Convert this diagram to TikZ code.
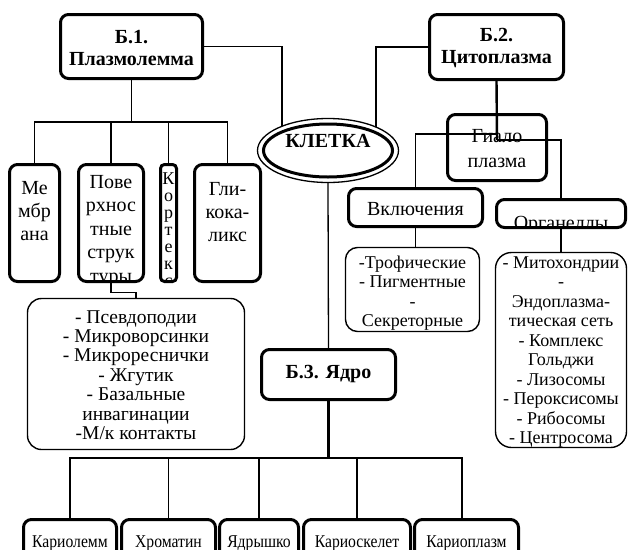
\documentclass[tikz,border=0pt]{standalone}
\usepackage{fontspec}
\setmainfont{Liberation Serif}
\usetikzlibrary{shapes.geometric}
\pgfdeclarelayer{bg}
\pgfsetlayers{bg,main}
\begin{document}
\begin{tikzpicture}[x=1pt,y=-1pt,
  tbox/.style={draw, line width=3pt, rounded corners=8pt, fill=white, inner sep=0pt, outer sep=0pt},
  lbox/.style={draw, line width=1.4pt, rounded corners=14pt, fill=white, inner sep=0pt, outer sep=0pt},
  conn/.style={line width=1.3pt},
  tconn/.style={line width=2.4pt},
  bt/.style={font=\bfseries\fontsize{20}{22}\selectfont, align=center, inner sep=0pt},
  nt/.style={font=\fontsize{20}{23}\selectfont, align=center, inner sep=0pt},
  lt/.style={font=\fontsize{18}{19.5}\selectfont, align=center, inner sep=0pt},
]
\clip (0,0) rectangle (629,549);

% main boxes
\node[tbox, minimum width=142pt, minimum height=64pt] (b1) at (131.5,46.5) {};
\node[tbox, minimum width=134pt, minimum height=65pt] (b2) at (496.5,47) {};
\node[tbox, minimum width=99pt, minimum height=66pt] (hyal) at (497,147.5) {};
\node[ellipse, draw, line width=1.3pt, fill=white, minimum width=141pt, minimum height=64pt, inner sep=0pt] (kl) at (328,150.5) {};
\draw[line width=3pt] (kl.center) ellipse [x radius=64.5, y radius=26.5];

\node[tbox, minimum width=50pt, minimum height=117pt] (mem) at (34.5,223) {};
\node[tbox, minimum width=65pt, minimum height=117pt] (pov) at (111,223) {};
\node[tbox, rounded corners=4pt, minimum width=16pt, minimum height=117pt] (kor) at (168.5,223) {};
\node[tbox, minimum width=66pt, minimum height=117pt] (gli) at (227.5,223) {};
\node[lbox, minimum width=217pt, minimum height=151pt] (povl) at (136,374) {};

\node[tbox, minimum width=134pt, minimum height=38pt] (vkl) at (415.5,207.5) {};
\node[tbox, minimum width=129pt, minimum height=28pt] (org) at (561,213.5) {};
\node[lbox, rounded corners=12pt, minimum width=134pt, minimum height=84pt] (trof) at (412.5,289.5) {};
\node[lbox, rounded corners=16pt, minimum width=131pt, minimum height=195pt] (mito) at (561,350) {};

\node[tbox, minimum width=134pt, minimum height=50pt] (yad) at (328.5,374.5) {};

\node[tbox, minimum width=93pt, minimum height=54pt] (k1) at (70,546.5) {};
\node[tbox, minimum width=94pt, minimum height=54pt] (k2) at (168.5,546.5) {};
\node[tbox, minimum width=79pt, minimum height=54pt] (k3) at (259,546.5) {};
\node[tbox, minimum width=107pt, minimum height=54pt] (k4) at (357,546.5) {};
\node[tbox, minimum width=104pt, minimum height=54pt] (k5) at (466.5,546.5) {};

% texts
\node[bt] (t1) at (131.5,48) {Б.1.\\Плазмолемма};
\node[bt] (t2) at (496.5,48) {Б.2.\\Цитоплазма};
\node[bt] (tkl) at (328,141) {КЛЕТКА};
\node[bt] (tyad) at (328.5,374) {Б.3. Ядро};
\node[nt, font=\fontsize{20}{25}\selectfont] (thyal) at (497,149) {Гиало\\плазма};
\node[nt] (tvkl) at (415.5,209) {Включения};

\begin{scope}
\clip[rounded corners=6pt] (mem.south west) rectangle (mem.north east);
\node[nt] (tmem) at (34.5,211) {Ме\\мбр\\ана};
\end{scope}
\begin{scope}
\clip[rounded corners=6pt] (pov.south west) rectangle (pov.north east);
\node[nt, font=\fontsize{20}{23.5}\selectfont] (tpov) at (111,231) {Пове\\рхнос\\тные\\струк\\туры};
\end{scope}
\begin{scope}
\clip[rounded corners=3pt] (kor.south west) rectangle (kor.north east);
\node[nt, font=\fontsize{18}{17}\selectfont] (tkor) at (168.5,230) {К\\о\\р\\т\\е\\к\\с};
\end{scope}
\begin{scope}
\clip[rounded corners=6pt] (gli.south west) rectangle (gli.north east);
\node[nt] (tgli) at (227.5,212) {Гли-\\кока-\\ликс};
\end{scope}
\node[lt, font=\fontsize{19.5}{19.4}\selectfont] (tpovl) at (136,375) {- Псевдоподии\\- Микроворсинки\\- Микрореснички\\- Жгутик\\- Базальные\\инвагинации\\-М/к контакты};
\begin{scope}
\clip[rounded corners=6pt] (org.south west) rectangle (org.north east);
\node[nt, anchor=base] (torg) at (561,229) {Органеллы};
\end{scope}
\begin{scope}
\clip[rounded corners=11pt] (trof.south west) rectangle (trof.north east);
\node[lt] (ttrof) at (412.5,293) {-Трофические\\- Пигментные\\-\\Секреторные};
\end{scope}
\begin{scope}
\clip[rounded corners=15pt] (mito.south west) rectangle (mito.north east);
\node[lt] (tmito) at (561,352) {- Митохондрии\\-\\Эндоплазма-\\тическая сеть\\- Комплекс\\Гольджи\\- Лизосомы\\- Пероксисомы\\- Рибосомы\\- Центросома};
\end{scope}
\begin{scope}[every node/.style={nt, font=\fontsize{18}{20}\selectfont, anchor=base}]
\node (tk1) at (70,547) {\scalebox{0.87}[1]{Кариолемм}};
\node (tk2) at (168.5,547) {\scalebox{0.87}[1]{Хроматин}};
\node (tk3) at (259,547) {\scalebox{0.87}[1]{Ядрышко}};
\node (tk4) at (357,547) {\scalebox{0.87}[1]{Кариоскелет}};
\node (tk5) at (466.5,547) {\scalebox{0.87}[1]{Кариоплазм}};
\end{scope}

% connectors behind
\begin{pgfonlayer}{bg}
\draw[conn] (b1.east) -| ([xshift=-46pt]kl.center);
\draw[conn] (b2.west) -| ([xshift=48pt]kl.center);
\coordinate (f1) at (131.5,122);
\draw[conn] (b1.south) -- (f1);
\draw[conn] (mem.north) |- (f1) -| (gli.north);
\draw[conn] (pov.north) -- (pov.north |- f1);
\draw[conn] (kor.north) -- (kor.north |- f1);
\draw[conn] (pov.south) |- ([yshift=6pt]povl.north) -- (povl.north);
\draw[conn] (vkl.south) -- (vkl.south |- trof.north);
\draw[conn] (org.south) -- (mito.north);
\draw[conn] (kl.south) -- (yad.north);
\coordinate (f3) at (328.5,458);
\draw[tconn] (yad.south) -- (f3);
\draw[conn] (k1.north) |- (f3) -| ([xshift=-4.5pt]k5.north);
\draw[conn] (k2.north) -- (k2.north |- f3);
\draw[conn] (k3.north) -- (k3.north |- f3);
\draw[conn] (k4.north) -- (k4.north |- f3);
\end{pgfonlayer}

% lines over the hyaloplasm box
\coordinate (h1) at (497,134);
\coordinate (h2) at (497,140);
\draw[tconn] (b2.south) -- (h2);
\draw[conn] (vkl.north) |- (h1);
\draw[conn] (h2) -| (org.north);
\end{tikzpicture}
\end{document}
